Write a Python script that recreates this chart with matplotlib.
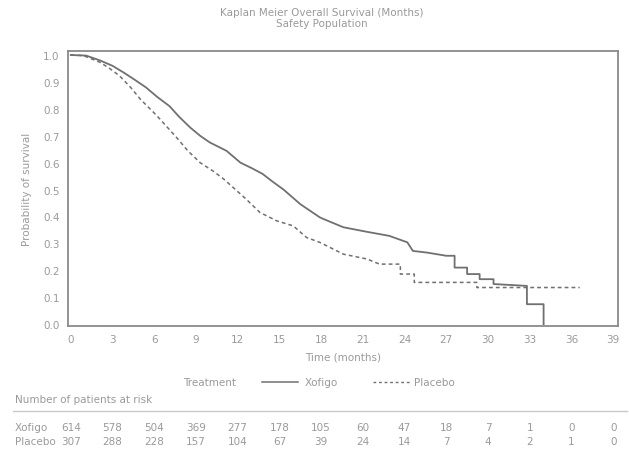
import numpy as np
import matplotlib.pyplot as plt
from matplotlib.transforms import blended_transform_factory

# survival curves (vertices of the drawn KM lines, months / probability)
xofigo_t = [0, 1.1, 2.1, 3.0, 3.8, 4.6, 5.4, 6.2, 7.1, 7.8, 8.6, 9.3, 10.0, 11.2, 12.2,
            13.0, 13.8, 14.5, 15.3, 16.5, 17.9, 18.2, 19.6, 21.3, 22.9, 24.2, 24.6,
            25.6, 27.0, 27.6, 27.6, 28.5, 28.5, 29.4, 29.4, 30.4, 30.4, 32.8, 32.8,
            34.0, 34.0]
xofigo_s = [1.0, 0.998, 0.98, 0.96, 0.935, 0.908, 0.88, 0.845, 0.81, 0.77, 0.73, 0.70,
            0.675, 0.644, 0.60, 0.58, 0.558, 0.53, 0.50, 0.446, 0.397, 0.39, 0.36,
            0.343, 0.328, 0.304, 0.272, 0.266, 0.254, 0.254, 0.21, 0.21, 0.186,
            0.186, 0.167, 0.167, 0.149, 0.142, 0.074, 0.074, 0.0]

placebo_t = [0, 0.9, 2.1, 2.8, 3.5, 4.3, 5.0, 6.2, 7.6, 8.4, 9.3, 10.2, 11.0, 12.6,
             13.6, 14.8, 16.0, 16.95, 17.9, 19.6, 21.3, 22.2, 23.7, 23.7, 24.7, 24.7,
             29.2, 29.2, 36.6]
placebo_s = [1.0, 0.998, 0.973, 0.95, 0.923, 0.88, 0.836, 0.774, 0.694, 0.645, 0.60,
             0.57, 0.539, 0.465, 0.415, 0.384, 0.365, 0.322, 0.304, 0.26, 0.242,
             0.223, 0.223, 0.186, 0.186, 0.155, 0.155, 0.136, 0.136]

ticks_x = list(range(0, 40, 3))
at_risk_xofigo = [614, 578, 504, 369, 277, 178, 105, 60, 47, 18, 7, 1, 0, 0]
at_risk_placebo = [307, 288, 228, 157, 104, 67, 39, 24, 14, 7, 4, 2, 1, 0]

grey_txt = '#9a9a9a'
grey_line = '#707070'
fs = 7.5

plt.rcParams['font.family'] = ['DejaVu Sans']
fig = plt.figure(figsize=(6.29, 4.52), dpi=100)
ax = fig.add_axes([68/629, 125/452, 550/629, 275/452])

ax.plot(xofigo_t, xofigo_s, color=grey_line, lw=1.3)
ax.plot(placebo_t, placebo_s, color=grey_line, lw=1.1, ls=(0, (2.5, 2)))

ax.set_xlim(-0.2, 39.35)
ax.set_ylim(-0.007, 1.015)
ax.set_xticks(ticks_x)
ax.set_yticks(np.arange(0, 1.01, 0.1))
ax.set_yticklabels([f'{v:.1f}' for v in np.arange(0, 1.01, 0.1)])
ax.tick_params(length=0, labelsize=fs, labelcolor=grey_txt, pad=6)
for s in ax.spines.values():
    s.set_color('#8a8a8a')
    s.set_linewidth(1.3)
ax.set_xlabel('Time (months)', fontsize=fs, color=grey_txt, labelpad=5)
ax.set_ylabel('Probability of survival', fontsize=fs, color=grey_txt, labelpad=8)

# titles
fig.text(322/629, 1 - 13/452, 'Kaplan Meier Overall Survival (Months)', ha='center',
         va='center', fontsize=fs, color=grey_txt)
fig.text(322/629, 1 - 24/452, 'Safety Population', ha='center', va='center',
         fontsize=fs, color=grey_txt)

# legend row
ly = 1 - 383/452
fig.text(183/629, ly, 'Treatment', va='center', fontsize=fs, color=grey_txt)
fig.add_artist(plt.Line2D([262/629, 298/629], [ly, ly], color=grey_line, lw=1.1))
fig.text(305/629, ly, 'Xofigo', va='center', fontsize=fs, color=grey_txt)
fig.add_artist(plt.Line2D([373/629, 410/629], [ly, ly], color=grey_line, lw=1.0,
                          ls=(0, (2, 2))))
fig.text(414/629, ly, 'Placebo', va='center', fontsize=fs, color=grey_txt)

# number at risk table
fig.text(15/629, 1 - 400/452, 'Number of patients at risk', va='center',
         fontsize=fs, color=grey_txt)
fig.add_artist(plt.Line2D([13/629, 627/629], [1 - 412/452, 1 - 412/452],
                          color='#c8c8c8', lw=1.0))
tr = blended_transform_factory(ax.transData, fig.transFigure)
for label, vals, ypx in [('Xofigo', at_risk_xofigo, 428), ('Placebo', at_risk_placebo, 442)]:
    fig.text(15/629, 1 - ypx/452, label, va='center', fontsize=fs, color=grey_txt)
    for t, v in zip(ticks_x, vals):
        ax.text(t, 1 - ypx/452, str(v), transform=tr, ha='center', va='center',
                fontsize=fs, color=grey_txt, clip_on=False)

fig.savefig('out.png', dpi=100)
